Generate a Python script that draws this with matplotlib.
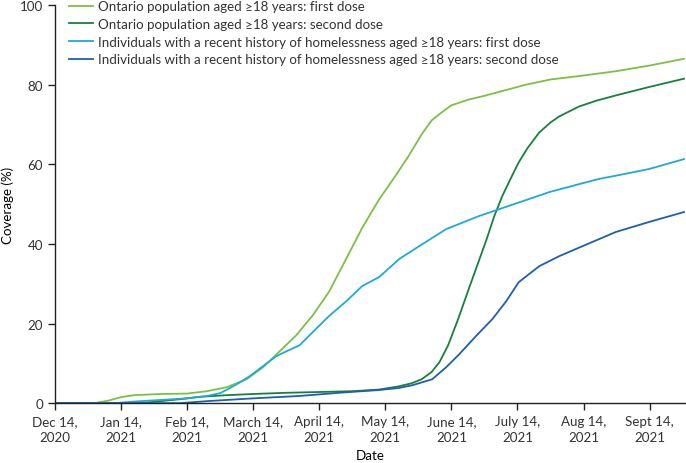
import matplotlib
matplotlib.use("Agg")
import matplotlib.pyplot as plt

plt.rcParams["font.family"] = ["Lato", "DejaVu Sans"]
plt.rcParams["font.size"] = 9.6
plt.rcParams["text.color"] = "#333333"

# x in months since Dec 14, 2020 (ticks evenly spaced per month)
tick_labels = ["Dec 14,\n2020", "Jan 14,\n2021", "Feb 14,\n2021", "March 14,\n2021",
               "April 14,\n2021", "May 14,\n2021", "June 14,\n2021", "July 14,\n2021",
               "Aug 14,\n2021", "Sept 14,\n2021"]

ont_first_x = [0, 0.6, 0.8, 1.0, 1.2, 1.6, 2.0, 2.3, 2.6, 2.9, 3.15, 3.4, 3.65, 3.9, 4.15,
               4.4, 4.65, 4.9, 5.15, 5.35, 5.55, 5.7, 5.85, 6.0, 6.25, 6.5, 7.13, 7.5, 8.0,
               8.5, 9.0, 9.52]
ont_first_y = [0, 0, 0.6, 1.5, 2.0, 2.3, 2.4, 3.0, 4.0, 6, 9, 13, 17, 22, 28, 36, 44, 51,
               57, 62, 67.5, 71, 73, 74.8, 76.2, 77.2, 80, 81.3, 82.3, 83.4, 84.8, 86.5]

ont_second_x = [0, 1.3, 1.6, 1.9, 2.2, 2.6, 3.0, 3.5, 4.0, 4.5, 4.9, 5.2, 5.4, 5.55, 5.7,
                5.82, 5.95, 6.1, 6.27, 6.4, 6.53, 6.65, 6.77, 6.9, 7.02, 7.15, 7.33, 7.5,
                7.63, 7.93, 8.2, 8.49, 8.99, 9.52]
ont_second_y = [0, 0, 0.5, 1.0, 1.6, 2.0, 2.3, 2.6, 2.8, 3.0, 3.4, 4.2, 5.0, 6.0, 7.8,
                10.3, 14.5, 21, 29, 35, 41, 47, 52, 56.5, 60.5, 64, 68, 70.5, 72, 74.5,
                76, 77.3, 79.4, 81.5]

hl_first_x = [0, 0.9, 1.2, 1.6, 2.0, 2.3, 2.5, 2.65, 2.8, 2.95, 3.15, 3.35, 3.5, 3.7, 3.9,
              4.15, 4.41, 4.65, 4.91, 5.21, 5.51, 5.92, 6.42, 6.72, 7.18, 7.48, 7.93, 8.23,
              8.6, 8.99, 9.52]
hl_first_y = [0, 0, 0.4, 0.8, 1.2, 1.8, 2.5, 3.8, 5.2, 6.8, 9.3, 11.8, 13, 14.5, 17.8,
              21.9, 25.6, 29.4, 31.7, 36.2, 39.4, 43.7, 47, 48.7, 51.3, 53, 55, 56.3,
              57.5, 58.8, 61.3]

hl_second_x = [0, 1.9, 2.3, 3.0, 3.7, 4.3, 4.91, 5.2, 5.41, 5.71, 5.92, 6.12, 6.37, 6.62,
               6.83, 7.02, 7.33, 7.63, 7.98, 8.49, 8.99, 9.52]
hl_second_y = [0, 0, 0.5, 1.2, 1.8, 2.6, 3.3, 3.8, 4.5, 6.0, 9.0, 12.3, 16.8, 21.1, 25.6,
               30.4, 34.4, 36.9, 39.4, 43.0, 45.5, 48.0]

labels = ["Ontario population aged \u226518 years: first dose",
          "Ontario population aged \u226518 years: second dose",
          "Individuals with a recent history of homelessness aged \u226518 years: first dose",
          "Individuals with a recent history of homelessness aged \u226518 years: second dose"]
colors = ["#7ac143", "#16803d", "#1ea9d8", "#1d5fae"]

fig = plt.figure(figsize=(6.86, 4.64), dpi=100)
ax = fig.add_axes([0.080, 0.129, 0.918, 0.858])

ax.plot(ont_first_x, ont_first_y, color=colors[0], lw=1.3, label=labels[0])
ax.plot(ont_second_x, ont_second_y, color=colors[1], lw=1.3, label=labels[1])
ax.plot(hl_first_x, hl_first_y, color=colors[2], lw=1.3, label=labels[2])
ax.plot(hl_second_x, hl_second_y, color=colors[3], lw=1.3, label=labels[3])

ax.set_xlim(0, 9.53)
ax.set_ylim(0, 100)
ax.set_xticks(range(len(tick_labels)))
ax.set_xticklabels(tick_labels, linespacing=1.4)
ax.set_yticks([0, 20, 40, 60, 80, 100])
ax.spines["top"].set_visible(False)
ax.spines["right"].set_visible(False)
for s in ["left", "bottom"]:
    ax.spines[s].set_color("#222222")
    ax.spines[s].set_linewidth(1.0)
ax.tick_params(direction="out", length=5, width=1.0, color="#222222",
               labelcolor="#333333", labelsize=9.6)
ax.set_xlabel("Date", labelpad=4)
ax.set_ylabel("Coverage (%)", labelpad=4)

ax.legend(loc="upper left", bbox_to_anchor=(0.014, 1.025), frameon=False,
          handlelength=1.8, handletextpad=0.4, labelspacing=0.42, borderaxespad=0)

fig.savefig("out.png", dpi=100)
